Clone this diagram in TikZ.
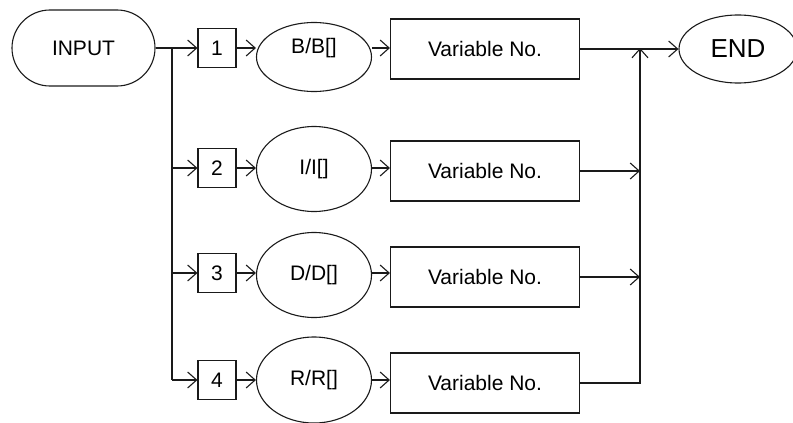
\documentclass[tikz,border=0pt]{standalone}
\usepackage{fontspec}
\setmainfont{Liberation Sans}
\usepackage{tikz}
\usepackage{xcolor}
\usetikzlibrary{
  positioning, arrows.meta, shapes.geometric, calc,
}
\definecolor{cLine}     {HTML}{1A1A1A}

\tikzset{
  numbox/.style  ={draw=cLine, line width=1.1pt, minimum width=38pt, minimum height=39pt, inner sep=0pt},
  typeoval/.style={draw=cLine, line width=1.1pt, ellipse, minimum width=115pt, minimum height=85pt, inner sep=0pt},
  varbox/.style  ={draw=cLine, line width=1.1pt, minimum width=189pt, minimum height=60pt, inner sep=0pt},
  flow/.style    ={draw=cLine, line width=1.1pt, -{Straight Barb[length=9pt, width=16pt]}},
}

\begin{document}
\begin{tikzpicture}[x=1pt, y=-1pt, font=\fontsize{21}{25}\selectfont]
  \useasboundingbox (0,0) rectangle (793,423);
  \node[draw=cLine, line width=1.1pt, rounded corners=38pt,
        minimum width=143pt, minimum height=76pt] (input) at (83.5,48) {INPUT};
  \node[typeoval, minimum width=118pt, minimum height=68pt,
        font=\fontsize{26}{30}\selectfont] (stop) at (738,49) {END};
  % one row per data type
  \foreach \i/\t/\ly/\ey/\eh/\dy/\ry in {1/B/48/57/69/9/49, 2/I/168/169/85/0/171,
                                         3/D/273/275/85/0/277, 4/R/380/380/86/0/383}{
    \node[numbox] (num\i) at (217,\ly) {\i};
    \node[typeoval, minimum height=\eh pt,
          label={[yshift=\dy pt]center:\t/\t[]}] (type\i) at (314,\ey) {};
    \node[varbox] (var\i) at (485,\ry) {Variable No.};
    \draw[flow] (num\i.east) -- (num\i.east -| type\i.west);
    \draw[flow] (type\i.east |- num\i) -- (var\i.west |- num\i);
  }
  \coordinate (fork) at (172,48);
  \coordinate (join) at (640,48);
  \draw[flow] (input.east) -- (num1.west);
  \draw[cLine, line width=1.1pt] (fork) -- (fork |- num4.west);
  \foreach \i in {2,3,4}
    \draw[flow] (fork |- num\i.west) -- (num\i.west);
  \draw[flow] (var1.east) -- (stop.west);
  \foreach \i in {2,3}
    \draw[flow] (var\i.east) -- (var\i.east -| join);
  \draw[flow] (var4.east) -- (var4.east -| join) -- (join);
\end{tikzpicture}
\end{document}
